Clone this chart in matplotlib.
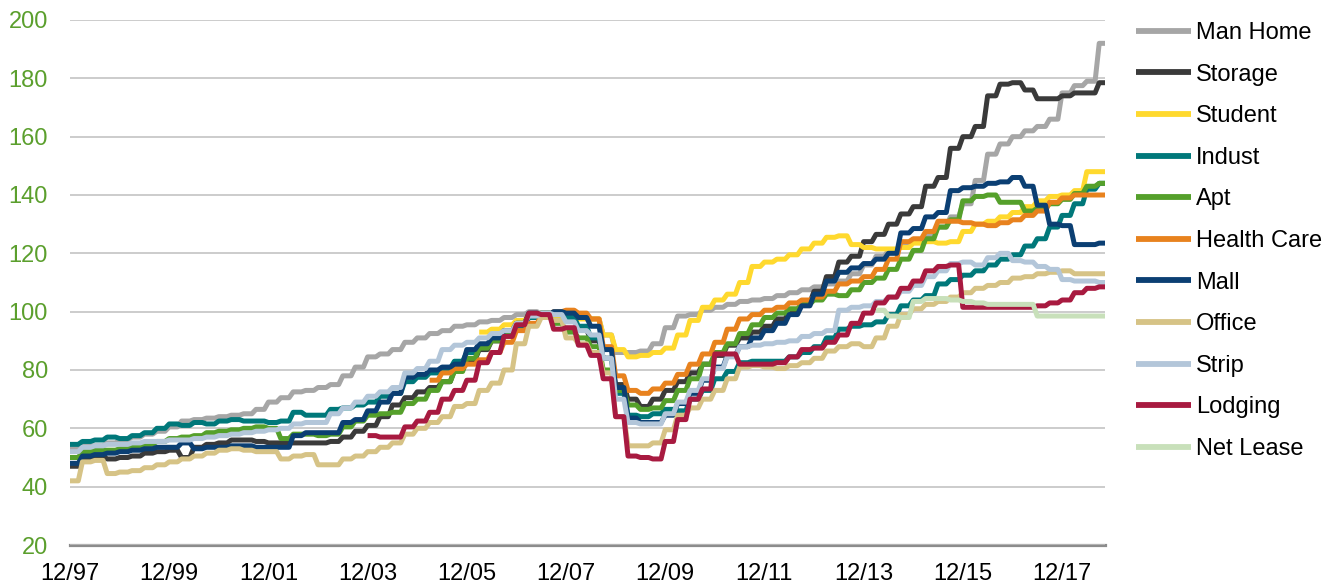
import numpy as np
import matplotlib
matplotlib.use("Agg")
import matplotlib.pyplot as plt

plt.rcParams['font.family'] = ['Liberation Sans', 'DejaVu Sans']

NAN = float('nan')

def pad(n, vals):
    return [NAN] * n + vals

# Quarterly index values, Q4 1997 (12/97) onward
series_names = ["Man Home", "Storage", "Student", "Indust", "Apt", "Health Care",
                "Mall", "Office", "Strip", "Lodging", "Net Lease"]

man_home = [53, 54, 54, 55, 56, 57, 58, 59,
            60.5, 62.5, 63, 63.5, 64, 64.5, 65, 66.5,
            69, 70.5, 72.5, 73, 74, 75, 78, 81,
            84.5, 85.5, 87, 89.5, 91, 92.5, 93.5, 95,
            95.5, 96.5, 97, 98, 99, 100, 99, 98.5,
            98, 98, 97.5, 92, 86, 86, 86.5, 89,
            94.5, 98.5, 99, 100.5, 101.5, 102.5, 103.5, 104,
            104.5, 105.5, 106.5, 107.5, 108.5, 109.5, 110.5, 113,
            116, 119, 121, 122.5, 124.5, 126, 129, 132.5,
            137, 145, 154, 157.5, 160, 162, 163.5, 166,
            175, 177.5, 179, 192]

storage = [47, 50, 50.5, 49.5, 50, 50.5, 51.5, 52,
           52.5, 50, 53.5, 54.5, 55, 56, 56, 55.5,
           55, 55, 55, 55, 55, 55.5, 57, 59,
           61, 64, 68, 70.5, 72.5, 74, 76, 80,
           83.5, 87, 90, 93, 96, 99, 99.5, 98,
           97, 94, 90, 84, 75, 70, 67.5, 70,
           73, 76, 79, 82, 85, 88.5, 91, 93,
           95, 97.5, 100, 103, 107, 112, 117, 119,
           124, 126.5, 130, 133.5, 136, 143, 146, 156,
           160, 163.5, 174, 178, 178.5, 176, 173, 173,
           174, 175, 175, 178.5]

student = pad(33, [93, 94, 95.5,
                   97, 99, 99.5, 98.5, 98, 97.5, 97.5, 92,
                   87, 84.5, 85, 86, 87.5, 92, 97, 101.5,
                   104, 106, 110, 115.5, 117, 118, 119.5, 121.5,
                   123.5, 125.5, 126, 123, 122, 121.5, 121.5, 122,
                   123.5, 124, 123.5, 124, 127.5, 130, 131, 132.5,
                   134, 136, 138, 139.5, 140, 141.5, 148, 148])

indust = [54.5, 55.5, 56, 57, 56.5, 57.5, 58.5, 60,
          61.5, 61, 62, 61.5, 62.5, 63, 62.5, 62.5,
          62, 62.5, 65.5, 64.5, 64.5, 66.5, 67, 68,
          69, 71, 72, 76, 77.5, 79, 80.5, 83,
          86, 88.5, 90.5, 92.5, 95, 98, 99.5, 99,
          98, 95, 91, 84, 72, 64.5, 64, 65,
          66.5, 66, 70, 73, 77, 79.5, 82.5, 83,
          83, 83, 84.5, 86, 88, 91, 94, 95,
          95.5, 96.5, 99, 102, 104, 105.5, 109.5, 111,
          112.5, 114, 116, 118, 119.5, 122.5, 125, 129,
          133, 137, 142, 144]

apt = [50, 52, 52.5, 52.5, 53, 53.5, 54.5, 55.5,
       56.5, 57, 57.5, 58.5, 59, 59.5, 60, 60.5,
       60, 56.5, 58, 58, 57.5, 58, 60.5, 62.5,
       64.5, 65, 65.5, 68.5, 70, 73, 76, 79.5,
       84, 87.5, 90, 92.5, 96, 99, 99, 96,
       93, 91, 88, 80, 73, 68, 66.5, 67,
       69.5, 73, 77, 82, 86, 89, 92.5, 95.5,
       98, 99.5, 101, 102.5, 104, 106, 105.5, 107.5,
       110, 111.5, 114.5, 118, 121, 125, 129, 131.5,
       138, 139.5, 140, 137.5, 137.5, 134.5, 135.5, 137,
       138.5, 140.5, 143, 144]

health_care = pad(29, [76.5, 79, 80.5,
                       82, 83.5, 86, 89.5, 93.5, 96, 98.5, 100,
                       100.5, 99.5, 97.5, 88, 78, 73, 72, 73.5,
                       75.5, 78.5, 82, 85.5, 89.5, 94, 97.5, 99,
                       100.5, 101.5, 103, 104, 105, 107, 109.5, 110.5,
                       112, 114.5, 118, 124, 125, 127.5, 131, 131,
                       130.5, 130, 129.5, 130.5, 131.5, 133, 134.5, 137.5,
                       139, 140, 140, 140])

mall = [48, 50.5, 51, 51.5, 52, 52.5, 53, 53.5,
        53.5, 55, 53, 53.5, 53.5, 54, 54, 53.5,
        53.5, 53.5, 57.5, 58.5, 58.5, 58.5, 62, 63,
        66, 69, 72, 77.5, 78.5, 80, 81, 82,
        87, 89, 91, 93.5, 96, 99.5, 99, 100,
        99.5, 98, 95, 87, 74, 63.5, 62, 62,
        64.5, 68.5, 72, 76.5, 81, 85, 88, 91,
        93.5, 96, 99, 102, 106, 110.5, 113.5, 115,
        116.5, 118, 120, 127, 128.5, 132.5, 134, 141.5,
        142.5, 143, 144, 144.5, 146, 143, 136.5, 130,
        129.5, 123, 123, 123.5]

office = [42, 48.5, 49, 44.5, 45, 45.5, 46.5, 47.5,
          48.5, 49.5, 50.5, 51.5, 52.5, 53, 52.5, 52,
          52, 49.5, 50.5, 51, 47.5, 47.5, 49.5, 50.5,
          52, 53.5, 55, 58, 60, 62, 64, 67.5,
          68.5, 73, 75.5, 80, 89, 95, 98, 97,
          91, 89, 86, 79, 64, 54, 54, 55,
          59.5, 64.5, 67, 70, 73, 77, 81, 81.5,
          81, 80.5, 81.5, 82.5, 84, 86.5, 88, 89,
          88, 91, 95, 99, 101, 102.5, 103.5, 105,
          106.5, 108, 109, 110, 111.5, 112, 113, 113.5,
          114, 113, 113, 113]

strip = [52, 53.5, 54, 54.5, 54.5, 55, 55.5, 55.5,
         56, 56, 56.5, 57, 57.5, 58, 58.5, 59,
         59.5, 60, 61.5, 62, 62, 65, 67, 69,
         71, 72.5, 74, 79, 80.5, 83, 87, 88.5,
         89.5, 91, 92.5, 93.5, 96, 98.5, 99.5, 99,
         96.5, 93.5, 92, 84, 70, 62, 61.5, 61.5,
         65, 69, 73, 77, 80.5, 84.5, 88, 88.5,
         89, 89.5, 90, 91.5, 92.5, 93.5, 100.5, 101.5,
         102, 103.5, 105, 107, 109, 112, 114, 116.5,
         117, 116, 118.5, 120, 117.5, 117, 115.5, 114.5,
         111, 110.5, 110.5, 110]

lodging = pad(24, [57.5, 57, 57, 60.5,
                   62.5, 65.5, 70, 73, 76.5, 82.5, 86, 91.5,
                   95.5, 99.5, 99, 94, 94.5, 88.5, 85, 77,
                   64, 50.5, 50, 49.5, 55.5, 63, 70, 73.5,
                   85.5, 85.5, 82, 82, 82, 82.5, 84.5, 87,
                   87.5, 89.5, 92, 96, 99.5, 103, 105, 108,
                   110.5, 114, 115.5, 116, 101.5, 101.5, 101.5, 101.5,
                   101.5, 101.5, 102, 103, 104, 106.5, 108, 108.5])

net_lease = pad(65, [100.5, 98.5, 98, 103.5, 104.5, 104.5, 104, 103.5,
                     103, 102.5, 102.5, 102.5, 102.5, 98.5, 98.5, 98.5,
                     98.5, 98.5, 98.5])

series_values = [man_home, storage, student, indust, apt, health_care,
                 mall, office, strip, lodging, net_lease]
series_colors = ["#A6A6A6", "#3A3A3A", "#FFD92E", "#00787A", "#55A02B", "#E8821E",
                 "#0B3F73", "#D6C386", "#B3C6D9", "#A81A40", "#C8E0BA"]

x_tick_labels = ["12/97", "12/99", "12/01", "12/03", "12/05", "12/07",
                 "12/09", "12/11", "12/13", "12/15", "12/17"]
y_ticks = [20, 40, 60, 80, 100, 120, 140, 160, 180, 200]

W, H = 1338, 585
fig = plt.figure(figsize=(W / 100, H / 100), dpi=100)
ax = fig.add_axes([70 / W, 40 / H, 1035 / W, 525 / H])

for name, vals, col in zip(series_names, series_values, series_colors):
    q = np.array(vals, dtype=float)
    y = np.repeat(q, 3)          # quarterly values held over each month
    x = np.arange(len(y))        # months since 12/97
    ax.plot(x, y, color=col, lw=3.6, label=name, solid_capstyle='butt',
            solid_joinstyle='round')

ax.set_xlim(0, 250.4)
ax.set_ylim(20, 200)
ax.set_yticks(y_ticks)
ax.set_xticks(np.arange(0, 241, 24))
ax.set_xticklabels(x_tick_labels)
ax.yaxis.grid(True, color="#BFBFBF", lw=1.1)
ax.set_axisbelow(True)
for s in ["top", "right", "left"]:
    ax.spines[s].set_visible(False)
ax.spines["bottom"].set_color("#8C8C8C")
ax.spines["bottom"].set_linewidth(2.3)
ax.spines["bottom"].set_zorder(0.5)
ax.tick_params(axis="y", length=0, pad=16, labelsize=17, labelcolor="#5B9F2D")
ax.tick_params(axis="x", length=0, pad=13, labelsize=17, labelcolor="#000000")

leg = fig.legend(loc="upper left", bbox_to_anchor=(1136 / W, 1 - 22 / H),
                 frameon=False, fontsize=17, handlelength=2.35, handletextpad=0.2,
                 labelspacing=0.83, borderpad=0, borderaxespad=0)
for h in leg.legend_handles:
    h.set_linewidth(4.2)

fig.savefig("out.png", dpi=100)
